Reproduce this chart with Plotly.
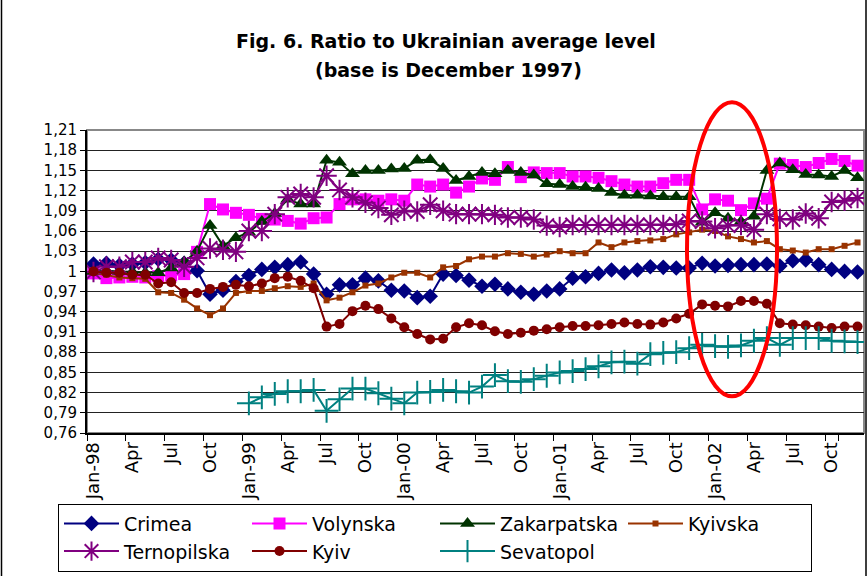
import plotly.graph_objects as go

months = [f"{m}-{y}" for y in ["98", "99", "00", "01", "02"]
          for m in ["Jan", "Feb", "Mar", "Apr", "May", "Jun", "Jul", "Aug", "Sep", "Oct", "Nov", "Dec"]]
tick_labels = ["Jan-98", "Apr", "Jul", "Oct", "Jan-99", "Apr", "Jul", "Oct",
               "Jan-00", "Apr", "Jul", "Oct", "Jan-01", "Apr", "Jul", "Oct",
               "Jan-02", "Apr", "Jul", "Oct"]
y_ticks = [0.76, 0.79, 0.82, 0.85, 0.88, 0.91, 0.94, 0.97, 1.00, 1.03, 1.06, 1.09, 1.12, 1.15, 1.18, 1.21]
y_tick_labels = ["0,76", "0,79", "0,82", "0,85", "0,88", "0,91", "0,94", "0,97", "1",
                 "1,03", "1,06", "1,09", "1,12", "1,15", "1,18", "1,21"]

crimea = [1.011, 1.012, 1.009, 1.011, 1.013, 1.018, 1.017, 1.012, 1.001, 0.966, 0.972, 0.985,
          0.994, 1.003, 1.006, 1.010, 1.014, 0.996, 0.966, 0.980, 0.980, 0.990, 0.986, 0.972,
          0.971, 0.961, 0.963, 0.996, 0.994, 0.987, 0.978, 0.981, 0.974, 0.969, 0.966, 0.971,
          0.974, 0.990, 0.992, 0.997, 1.002, 0.998, 1.002, 1.007, 1.006, 1.005, 1.005, 1.012,
          1.008, 1.009, 1.010, 1.010, 1.011, 1.008, 1.016, 1.017, 1.010, 1.003, 1.000, 0.999]
volynska = [0.997, 0.990, 0.991, 0.992, 0.991, 0.993, 0.994, 0.996, 1.029, 1.100, 1.092, 1.087,
            1.084, 1.078, 1.077, 1.075, 1.071, 1.079, 1.080, 1.100, 1.107, 1.107, 1.105, 1.107,
            1.105, 1.129, 1.126, 1.129, 1.117, 1.126, 1.138, 1.136, 1.155, 1.140, 1.147, 1.146,
            1.146, 1.141, 1.141, 1.139, 1.134, 1.129, 1.126, 1.126, 1.131, 1.136, 1.136, 1.092,
            1.107, 1.105, 1.091, 1.101, 1.108, 1.160, 1.158, 1.155, 1.161, 1.167, 1.164, 1.157]
zakarpatska = [1.000, 1.001, 1.000, 0.999, 0.998, 0.998, 1.005, 1.014, 1.030, 1.068, 1.038, 1.050,
               1.058, 1.074, 1.086, 1.107, 1.100, 1.100, 1.165, 1.162, 1.145, 1.150, 1.150, 1.152,
               1.153, 1.165, 1.166, 1.153, 1.135, 1.141, 1.147, 1.145, 1.150, 1.147, 1.143, 1.130,
               1.129, 1.126, 1.125, 1.123, 1.117, 1.113, 1.113, 1.112, 1.111, 1.111, 1.111, 1.073,
               1.087, 1.079, 1.074, 1.082, 1.150, 1.161, 1.151, 1.144, 1.143, 1.141, 1.150, 1.139]
kyivska = [0.998, 0.995, 0.991, 0.990, 0.989, 0.969, 0.968, 0.958, 0.945, 0.935, 0.945, 0.968,
           0.971, 0.971, 0.975, 0.978, 0.977, 0.982, 0.957, 0.961, 0.969, 0.979, 0.982, 0.991,
           0.998, 0.998, 0.991, 1.006, 1.008, 1.018, 1.022, 1.022, 1.027, 1.026, 1.022, 1.025,
           1.030, 1.027, 1.027, 1.043, 1.036, 1.043, 1.045, 1.046, 1.048, 1.055, 1.058, 1.062,
           1.060, 1.052, 1.048, 1.043, 1.045, 1.033, 1.031, 1.028, 1.033, 1.033, 1.038, 1.043]
ternopilska = [0.999, 1.007, 1.007, 1.014, 1.014, 1.020, 1.017, 1.007, 1.020, 1.034, 1.032, 1.029,
               1.060, 1.060, 1.085, 1.110, 1.115, 1.110, 1.142, 1.121, 1.110, 1.102, 1.094, 1.084,
               1.090, 1.089, 1.099, 1.090, 1.085, 1.085, 1.085, 1.084, 1.080, 1.080, 1.077, 1.068,
               1.066, 1.069, 1.069, 1.069, 1.069, 1.069, 1.069, 1.069, 1.069, 1.070, 1.075, 1.074,
               1.064, 1.068, 1.069, 1.062, 1.085, 1.078, 1.077, 1.086, 1.079, 1.103, 1.105, 1.109]
kyiv = [1.000, 0.998, 0.998, 0.995, 0.995, 0.982, 0.984, 0.968, 0.968, 0.974, 0.977, 0.980,
        0.978, 0.982, 0.990, 0.992, 0.986, 0.975, 0.918, 0.922, 0.941, 0.949, 0.944, 0.930,
        0.917, 0.907, 0.899, 0.900, 0.917, 0.923, 0.920, 0.911, 0.907, 0.909, 0.912, 0.914,
        0.917, 0.919, 0.919, 0.920, 0.922, 0.924, 0.922, 0.921, 0.924, 0.930, 0.937, 0.951,
        0.949, 0.948, 0.956, 0.956, 0.952, 0.923, 0.921, 0.920, 0.918, 0.916, 0.918, 0.918]
sevatopol = [None] * 12 + [
    0.804, 0.813, 0.818, 0.822, 0.822, 0.824, 0.793, 0.810, 0.826, 0.826, 0.819, 0.811,
    0.804, 0.820, 0.821, 0.824, 0.822, 0.820, 0.829, 0.846, 0.837, 0.836, 0.840, 0.845,
    0.850, 0.852, 0.855, 0.859, 0.865, 0.866, 0.863, 0.877, 0.879, 0.880, 0.886, 0.891,
    0.889, 0.888, 0.890, 0.897, 0.901, 0.891, 0.901, 0.901, 0.901, 0.897, 0.896, 0.895]

series = [
    ("Crimea", crimea, "#000080", dict(symbol="diamond", size=12)),
    ("Volynska", volynska, "#FF00FF", dict(symbol="square", size=12)),
    ("Zakarpatska", zakarpatska, "#003300", dict(symbol="triangle-up", size=13)),
    ("Kyivska", kyivska, "#993300", dict(symbol="square", size=6)),
    ("Ternopilska", ternopilska, "#800080", dict(symbol="asterisk-open", size=17, line=dict(width=2, color="#800080"))),
    ("Kyiv", kyiv, "#800000", dict(symbol="circle", size=10)),
    ("Sevatopol", sevatopol, "#008080", dict(symbol="cross-thin-open", size=17, line=dict(width=2, color="#008080"))),
]

fig = go.Figure()
for name, vals, color, mk in series:
    marker = dict(color=color, **mk)
    fig.add_trace(go.Scatter(x=months, y=vals, name=name, mode="lines+markers",
                             line=dict(color=color, width=2), marker=marker,
                             connectgaps=False))

W, H = 868, 576
L, R, T, B = 87, 4, 130, 141
pw, ph = W - L - R, H - T - B

def px_x(x):
    return (x - L) / pw

def px_y(y):
    return (H - B - y) / ph

fig.update_layout(
    width=W, height=H,
    margin=dict(l=L, r=R, t=T, b=B, pad=0),
    paper_bgcolor="white", plot_bgcolor="white",
    font=dict(family="DejaVu Sans", color="black"),
    showlegend=True,
    legend=dict(orientation="h", x=px_x(58), y=px_y(506), xanchor="left", yanchor="top",
                bordercolor="black", borderwidth=1, bgcolor="white",
                font=dict(size=19, family="DejaVu Sans"), itemwidth=55,
                entrywidth=118, entrywidthmode="pixels", traceorder="normal"),
    xaxis=dict(type="category", range=[-0.5, 59.5], tickmode="array",
               tickvals=months[::3], ticktext=tick_labels, tickson="boundaries",
               ticks="outside", ticklen=6, tickcolor="black", tickangle=-90,
               showgrid=False, showline=True, linecolor="black", linewidth=2,
               tickfont=dict(size=18, family="DejaVu Sans"), zeroline=False),
    yaxis=dict(range=[0.76, 1.21], tickmode="array", tickvals=y_ticks, ticktext=y_tick_labels,
               ticks="outside", ticklen=5, tickcolor="black", showgrid=True,
               gridcolor="#222222", gridwidth=1, showline=True, linecolor="black", linewidth=2,
               tickfont=dict(size=15, family="DejaVu Sans"), zeroline=False),
    shapes=[
        dict(type="rect", xref="paper", yref="paper", x0=0, x1=1, y0=0, y1=1,
             line=dict(color="#888888", width=2), layer="below"),
        dict(type="circle", xref="paper", yref="paper", x0=px_x(687), x1=px_x(777),
             y0=px_y(398), y1=px_y(102), line=dict(color="#FF0000", width=4), layer="above"),
        dict(type="rect", xref="paper", yref="paper", x0=px_x(1.5), x1=px_x(866),
             y0=px_y(590), y1=px_y(-10), line=dict(color="black", width=1.5), layer="above"),
    ],
    annotations=[
        dict(text="<b>Fig. 6. Ratio to Ukrainian average level</b>", xref="paper", yref="paper",
             x=px_x(446), y=px_y(40), xanchor="center", yanchor="middle", showarrow=False,
             font=dict(size=19, family="DejaVu Sans")),
        dict(text="<b>(base is December 1997)</b>", xref="paper", yref="paper",
             x=px_x(448), y=px_y(70), xanchor="center", yanchor="middle", showarrow=False,
             font=dict(size=19, family="DejaVu Sans")),
    ],
)

fig.write_html("out.html", config={"displayModeBar": False},
               post_script="document.body.style.margin='0';document.body.style.overflow='hidden';")
